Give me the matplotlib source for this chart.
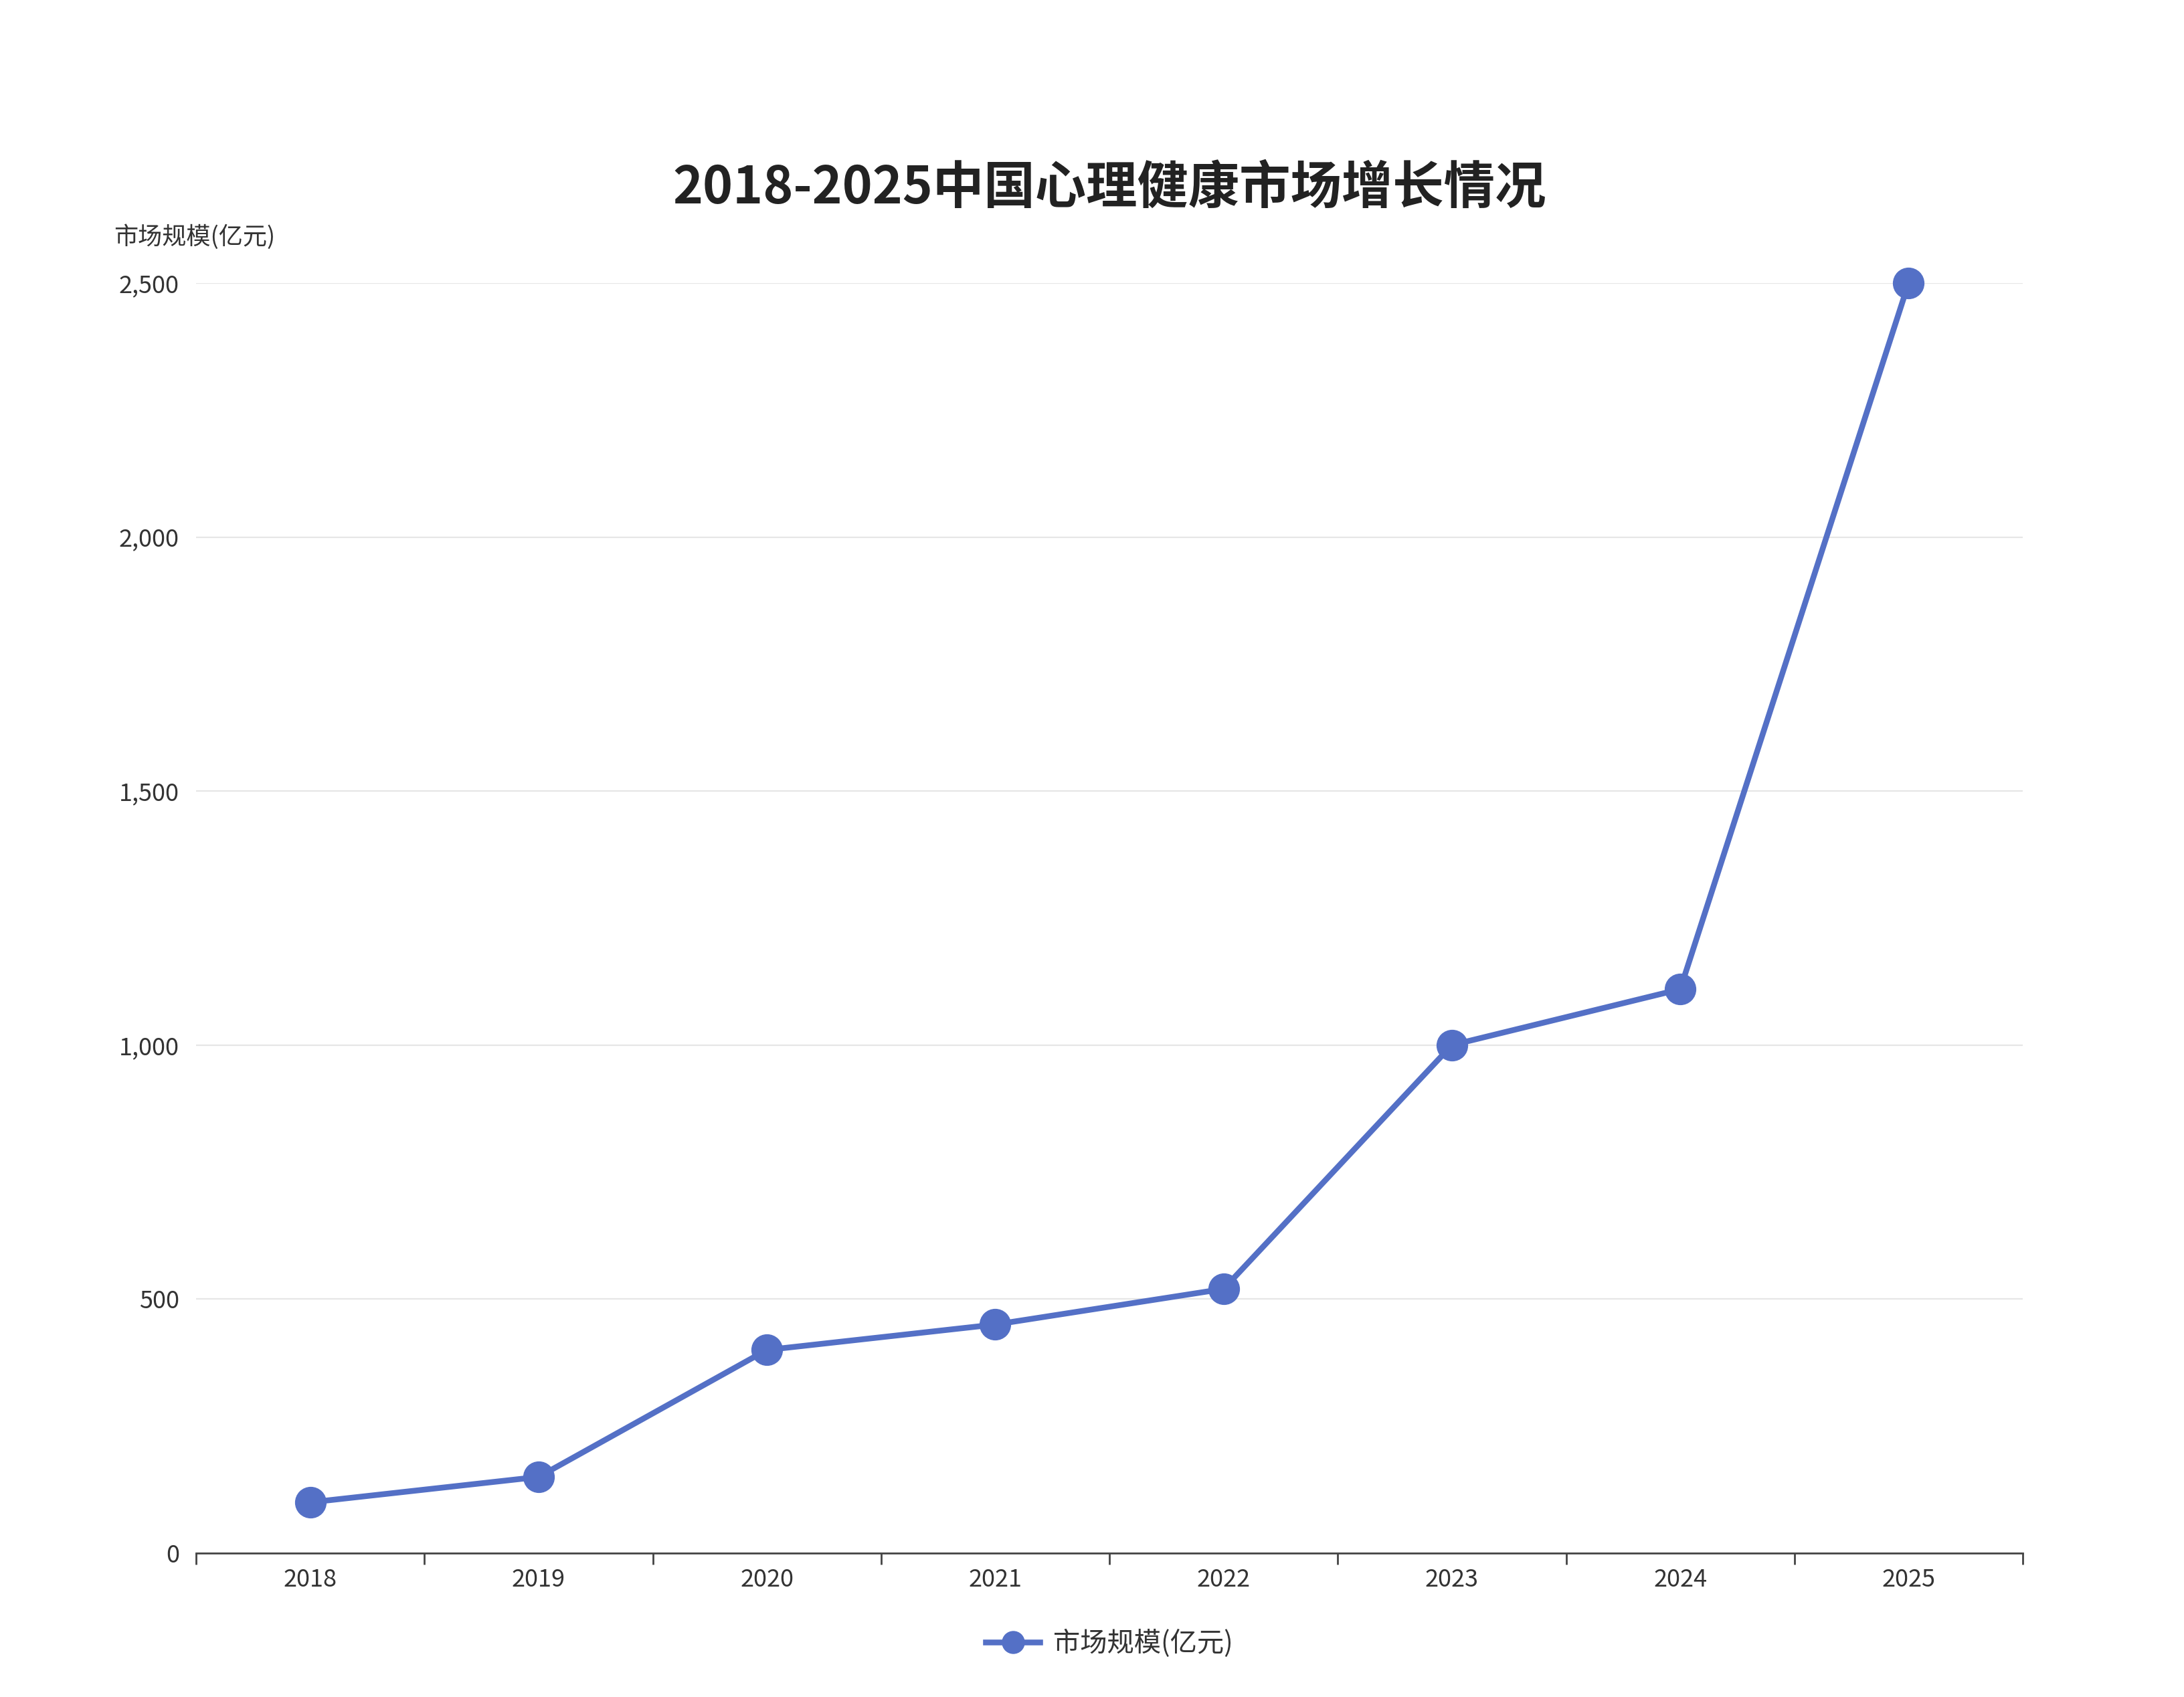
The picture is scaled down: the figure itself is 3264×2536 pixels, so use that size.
import numpy as np
import matplotlib
matplotlib.use("Agg")
import matplotlib.pyplot as plt
from matplotlib.ticker import FixedLocator, FuncFormatter

plt.rcParams['font.family'] = ['Noto Sans CJK SC', 'DejaVu Sans']

years = ['2018', '2019', '2020', '2021', '2022', '2023', '2024', '2025']
market_size = [100, 150, 400, 450, 520, 1000, 1110, 2500]
y_ticks = [0, 500, 1000, 1500, 2000, 2500]

line_color = '#5470c6'
text_color = '#333333'

fig = plt.figure(figsize=(32.64, 25.36), dpi=100)
ax = fig.add_axes([293 / 3264, 1 - 2321 / 2536, (3023 - 293) / 3264, (2321 - 423) / 2536])

x = np.arange(len(years))
ax.plot(x, market_size, color=line_color, lw=6.2, marker='o', ms=33,
        mfc=line_color, mec=line_color, label='市场规模(亿元)', zorder=3, clip_on=False)

ax.set_xlim(-0.5, len(years) - 0.5)
ax.set_ylim(0, 2500)

# category ticks sit between labels
ax.xaxis.set_major_locator(FixedLocator(np.arange(-0.5, len(years), 1.0)))
ax.xaxis.set_major_formatter(FuncFormatter(lambda v, p: ''))
ax.xaxis.set_minor_locator(FixedLocator(x))
ax.set_xticks(x, years, minor=True)
ax.tick_params(axis='x', which='major', length=12, width=2, color='#444444')
ax.tick_params(axis='x', which='minor', length=0, pad=16, labelsize=26, labelcolor=text_color)

ax.set_yticks(y_ticks)
ax.yaxis.set_major_formatter(FuncFormatter(lambda v, p: f'{int(v):,}'))
ax.tick_params(axis='y', length=0, pad=18, labelsize=26, labelcolor=text_color)

ax.grid(axis='y', color='#e6e6e6', lw=1.6)
ax.set_axisbelow(True)
for s in ['top', 'right', 'left']:
    ax.spines[s].set_visible(False)
ax.spines['bottom'].set_color('#444444')
ax.spines['bottom'].set_linewidth(2)

fig.text(1658 / 3264, 1 - 281 / 2536, '2018-2025中国心理健康市场增长情况',
         ha='center', va='center', fontsize=55, fontweight='bold', color='#222222')
fig.text(170 / 3264, 1 - 354 / 2536, '市场规模(亿元)', ha='left', va='center',
         fontsize=26, color=text_color)

fig.legend(loc='center', bbox_to_anchor=(1658 / 3264, 1 - 2456 / 2536), frameon=False,
           fontsize=29, handlelength=2.0, handletextpad=0.5, markerscale=0.72,
           labelcolor=text_color)

fig.savefig('out.png', dpi=100, facecolor='white')
